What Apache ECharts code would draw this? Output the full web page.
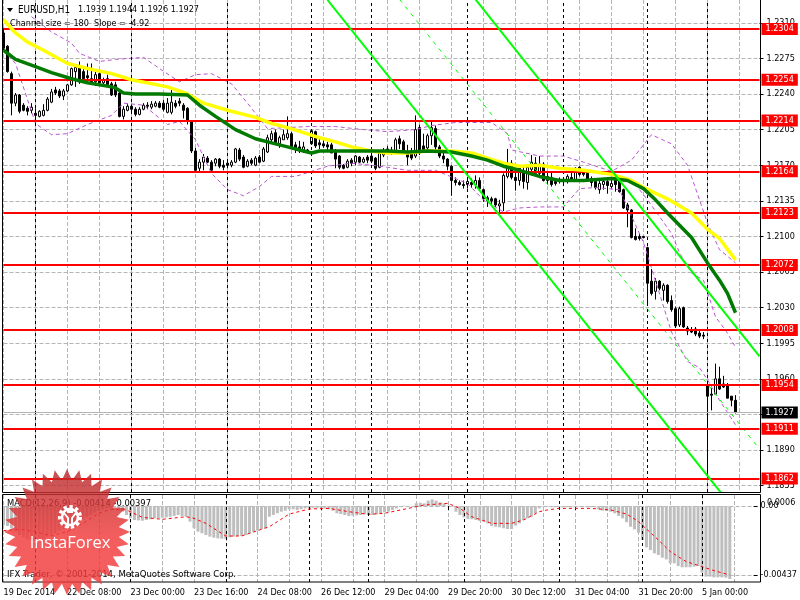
<!DOCTYPE html>
<html><head><meta charset="utf-8">
<style>html,body{margin:0;padding:0;background:#fff}#c{width:800px;height:600px}</style>
<script src="https://cdn.jsdelivr.net/npm/echarts@6/dist/echarts.min.js"></script>
</head><body><div id="c"></div>
<script>
const FONT = '"DejaVu Sans Condensed","DejaVu Sans", sans-serif';
const tickLabels = ['19 Dec 2014','22 Dec 08:00','23 Dec 00:00','23 Dec 16:00','24 Dec 08:00','26 Dec 12:00','29 Dec 04:00','29 Dec 20:00','30 Dec 12:00','31 Dec 04:00','31 Dec 20:00','5 Jan 00:00'];
const barSlots = 190;
const dayBreaks = [8,32,56,77,92,116,140,161,176];
const priceTicks = [1.2310,1.2275,1.2240,1.2205,1.2170,1.2135,1.2100,1.2065,1.2030,1.1995,1.1960,1.1925,1.1890,1.1855];
const levels = [1.2304,1.2254,1.2214,1.2164,1.2123,1.2072,1.2008,1.1954,1.1911,1.1862];
const lastPrice = 1.1927;
// open, close, low, high
const candles = [
[1.2300,1.2285,1.2283,1.2305],[1.2287,1.2262,1.2261,1.2288],[1.2260,1.2231,1.2219,1.2262],[1.2231,1.2239,1.2228,1.2241],
[1.2239,1.2223,1.2221,1.2240],[1.2229,1.2224,1.2223,1.2231],[1.2226,1.2223,1.2219,1.2228],[1.2224,1.2227,1.2221,1.2231],
[1.2221,1.2219,1.2209,1.2226],[1.2218,1.2223,1.2217,1.2224],[1.2219,1.2224,1.2218,1.2230],[1.2224,1.2235,1.2223,1.2237],
[1.2232,1.2242,1.2231,1.2245],[1.2244,1.2241,1.2239,1.2247],[1.2243,1.2238,1.2236,1.2245],[1.2238,1.2243,1.2234,1.2245],
[1.2243,1.2249,1.2242,1.2250],[1.2249,1.2265,1.2248,1.2266],[1.2262,1.2266,1.2247,1.2268],[1.2267,1.2252,1.2250,1.2272],
[1.2262,1.2255,1.2252,1.2265],[1.2258,1.2256,1.2254,1.2270],[1.2255,1.2252,1.2250,1.2270],[1.2252,1.2259,1.2248,1.2264],
[1.2260,1.2251,1.2249,1.2263],[1.2251,1.2254,1.2249,1.2256],[1.2255,1.2249,1.2247,1.2259],[1.2250,1.2239,1.2238,1.2252],
[1.2249,1.2239,1.2237,1.2252],[1.2241,1.2218,1.2217,1.2242],[1.2218,1.2225,1.2215,1.2228],[1.2224,1.2228,1.2223,1.2230],
[1.2228,1.2225,1.2222,1.2230],[1.2225,1.2220,1.2218,1.2227],[1.2220,1.2225,1.2219,1.2227],[1.2225,1.2229,1.2224,1.2231],
[1.2229,1.2228,1.2225,1.2232],[1.2227,1.2230,1.2225,1.2233],[1.2228,1.2231,1.2227,1.2233],[1.2231,1.2227,1.2226,1.2233],
[1.2231,1.2225,1.2223,1.2234],[1.2222,1.2231,1.2221,1.2236],[1.2222,1.2232,1.2220,1.2244],[1.2231,1.2228,1.2226,1.2234],
[1.2233,1.2231,1.2228,1.2236],[1.2229,1.2224,1.2216,1.2231],[1.2226,1.2213,1.2210,1.2227],[1.2213,1.2184,1.2182,1.2214],
[1.2184,1.2165,1.2164,1.2187],[1.2167,1.2173,1.2163,1.2176],[1.2173,1.2178,1.2165,1.2181],[1.2177,1.2173,1.2172,1.2179],
[1.2173,1.2165,1.2165,1.2175],[1.2172,1.2176,1.2169,1.2177],[1.2176,1.2169,1.2167,1.2177],[1.2170,1.2168,1.2165,1.2175],
[1.2172,1.2170,1.2167,1.2174],[1.2170,1.2173,1.2168,1.2175],[1.2173,1.2186,1.2172,1.2187],[1.2185,1.2176,1.2174,1.2187],
[1.2178,1.2168,1.2167,1.2180],[1.2169,1.2174,1.2168,1.2176],[1.2175,1.2172,1.2170,1.2177],[1.2170,1.2177,1.2169,1.2179],
[1.2178,1.2173,1.2172,1.2180],[1.2174,1.2186,1.2173,1.2188],[1.2183,1.2197,1.2182,1.2200],
[1.2195,1.2201,1.2192,1.2204],[1.2202,1.2192,1.2191,1.2205],[1.2191,1.2197,1.2187,1.2199],[1.2195,1.2200,1.2195,1.2205],
[1.2197,1.2201,1.2195,1.2218],[1.2201,1.2188,1.2187,1.2203],[1.2190,1.2186,1.2182,1.2193],[1.2188,1.2184,1.2182,1.2194],
[1.2184,1.2188,1.2182,1.2193],[1.2185,1.2184,1.2183,1.2186],[1.2191,1.2204,1.2190,1.2205],[1.2203,1.2189,1.2187,1.2204],
[1.2192,1.2190,1.2186,1.2196],[1.2191,1.2189,1.2187,1.2195],[1.2190,1.2188,1.2183,1.2193],[1.2190,1.2182,1.2182,1.2192],
[1.2184,1.2176,1.2167,1.2186],[1.2179,1.2168,1.2166,1.2180],[1.2170,1.2167,1.2166,1.2171],[1.2168,1.2174,1.2167,1.2176],
[1.2175,1.2172,1.2169,1.2177],[1.2173,1.2179,1.2170,1.2180],[1.2178,1.2173,1.2172,1.2179],[1.2173,1.2176,1.2172,1.2178],
[1.2178,1.2175,1.2172,1.2180],[1.2179,1.2174,1.2172,1.2182],[1.2177,1.2167,1.2165,1.2178],[1.2168,1.2182,1.2167,1.2184],
[1.2180,1.2184,1.2178,1.2187],[1.2186,1.2183,1.2181,1.2189],[1.2185,1.2182,1.2180,1.2188],[1.2183,1.2195,1.2182,1.2197],
[1.2196,1.2191,1.2186,1.2199],[1.2193,1.2183,1.2182,1.2195],[1.2183,1.2178,1.2170,1.2190],[1.2183,1.2177,1.2175,1.2187],
[1.2179,1.2205,1.2177,1.2219],[1.2207,1.2182,1.2180,1.2210],[1.2189,1.2185,1.2182,1.2201],[1.2187,1.2199,1.2185,1.2201],
[1.2199,1.2207,1.2190,1.2214],[1.2206,1.2188,1.2185,1.2209],[1.2188,1.2179,1.2177,1.2190],[1.2179,1.2176,1.2172,1.2182],
[1.2176,1.2169,1.2165,1.2177],[1.2169,1.2155,1.2140,1.2170],[1.2155,1.2153,1.2150,1.2158],[1.2153,1.2151,1.2150,1.2155],
[1.2151,1.2150,1.2147,1.2155],[1.2151,1.2154,1.2147,1.2158],[1.2153,1.2151,1.2148,1.2157],[1.2151,1.2155,1.2147,1.2160],
[1.2155,1.2147,1.2145,1.2158],[1.2146,1.2137,1.2134,1.2147],[1.2138,1.2135,1.2129,1.2140],[1.2137,1.2135,1.2131,1.2139],
[1.2137,1.2131,1.2129,1.2138],[1.2130,1.2132,1.2122,1.2136],[1.2133,1.2160,1.2125,1.2162],[1.2159,1.2171,1.2157,1.2186],
[1.2172,1.2158,1.2156,1.2175],[1.2158,1.2155,1.2145,1.2166],[1.2155,1.2167,1.2150,1.2170],[1.2164,1.2154,1.2147,1.2169],
[1.2153,1.2168,1.2146,1.2169],[1.2166,1.2173,1.2160,1.2180],[1.2172,1.2162,1.2159,1.2178],[1.2162,1.2171,1.2159,1.2179],
[1.2171,1.2155,1.2154,1.2173],[1.2155,1.2159,1.2151,1.2164],[1.2158,1.2151,1.2149,1.2163],[1.2154,1.2152,1.2150,1.2156],
[1.2156,1.2154,1.2152,1.2158],[1.2154,1.2155,1.2152,1.2157],[1.2154,1.2159,1.2152,1.2161],[1.2158,1.2155,1.2154,1.2164],
[1.2155,1.2167,1.2155,1.2168],[1.2168,1.2161,1.2159,1.2169],[1.2165,1.2161,1.2159,1.2166],[1.2162,1.2155,1.2154,1.2164],
[1.2157,1.2153,1.2149,1.2159],[1.2154,1.2148,1.2146,1.2155],[1.2146,1.2152,1.2142,1.2157],[1.2151,1.2154,1.2146,1.2157],
[1.2154,1.2150,1.2142,1.2157],[1.2149,1.2152,1.2147,1.2157],[1.2157,1.2151,1.2144,1.2159],[1.2155,1.2144,1.2143,1.2157],
[1.2146,1.2128,1.2127,1.2147],[1.2131,1.2126,1.2109,1.2133],[1.2126,1.2099,1.2098,1.2127],[1.2100,1.2097,1.2096,1.2108],
[1.2100,1.2098,1.2096,1.2103],[1.2100,1.2099,1.2098,1.2100],[1.2089,1.2054,1.2033,1.2090],[1.2056,1.2044,1.2042,1.2068],
[1.2046,1.2056,1.2038,1.2059],[1.2056,1.2049,1.2047,1.2057],[1.2047,1.2052,1.2037,1.2054],[1.2052,1.2036,1.2034,1.2053],
[1.2037,1.2028,1.2026,1.2042],[1.2029,1.2012,1.2010,1.2031],[1.2013,1.2029,1.2011,1.2031],[1.2030,1.2011,1.2010,1.2031],
[1.2010,1.2007,1.2003,1.2012],[1.2008,1.2006,1.2005,1.2011],[1.2009,1.2004,1.2002,1.2011],[1.2005,1.2002,1.2000,1.2008],
[1.2003,1.2002,1.1999,1.2006],[1.1953,1.1943,1.1865,1.1954],[1.1945,1.1944,1.1929,1.1951],[1.1945,1.1960,1.1945,1.1975],
[1.1960,1.1950,1.1949,1.1972],[1.1955,1.1952,1.1951,1.1963],[1.1954,1.1941,1.1941,1.1956],[1.1943,1.1939,1.1933,1.1943],
[1.1939,1.1927,1.1926,1.1944]];
// [bar index, price] nodes
const yellowMA = [[0,1.2313],[3,1.2300],[6,1.2291],[10,1.2283],[16,1.2270],[21,1.2265],[27,1.2260],[32,1.2254],[41,1.2247],[46,1.2240],[50,1.2231],[56,1.2224],[63,1.2217],[67,1.2211],[71,1.2207],[75,1.2202],[79,1.2197],[83,1.2193],[87,1.2188],[92,1.2184],[96,1.2182],[101,1.2182],[106,1.2184],[112,1.2184],[117,1.2182],[121,1.2177],[125,1.2172],[129,1.2169],[134,1.2170],[139,1.2167],[145,1.2165],[152,1.2161],[157,1.2155],[160,1.2148],[166,1.2137],[172,1.2123],[176,1.2107],[179,1.2098],[183,1.2077]];
const greenMA = [[0,1.2283],[3,1.2274],[8,1.2267],[12,1.2261],[17,1.2255],[21,1.2251],[27,1.2247],[28,1.2246],[30,1.2241],[33,1.2240],[39,1.2240],[46,1.2239],[49,1.2229],[53,1.2218],[58,1.2205],[63,1.2196],[67,1.2192],[71,1.2188],[75,1.2184],[77,1.2182],[79,1.2184],[88,1.2184],[96,1.2184],[101,1.2183],[106,1.2184],[112,1.2183],[117,1.2179],[121,1.2175],[125,1.2169],[129,1.2165],[134,1.2159],[139,1.2155],[145,1.2155],[152,1.2157],[156,1.2155],[160,1.2147],[163,1.2136],[166,1.2123],[172,1.2099],[176,1.2074],[179,1.2057],[181,1.2044],[183,1.2025]];
const bandUpper = [[7,1.2316],[12,1.2301],[17,1.2290],[19,1.2280],[24,1.2272],[28,1.2274],[35,1.2276],[39,1.2265],[44,1.2252],[48,1.2259],[52,1.2260],[57,1.2250],[61,1.2231],[66,1.2206],[76,1.2208],[83,1.2208],[90,1.2205],[96,1.2203],[103,1.2205],[107,1.2209],[113,1.2212],[122,1.2212],[126,1.2201],[127,1.2185],[134,1.2179],[140,1.2179],[145,1.2173],[152,1.2164],[157,1.2175],[159,1.2185],[162,1.2200],[167,1.2191],[171,1.2170],[174,1.2136],[176,1.2113],[179,1.2087],[183,1.2074]];
const bandLower = [[0,1.2283],[3,1.2270],[8,1.2211],[12,1.2200],[16,1.2201],[21,1.2210],[27,1.2219],[30,1.2231],[35,1.2229],[41,1.2210],[44,1.2213],[48,1.2195],[52,1.2162],[56,1.2146],[60,1.2140],[64,1.2149],[67,1.2159],[73,1.2159],[77,1.2164],[81,1.2169],[87,1.2172],[92,1.2170],[96,1.2168],[101,1.2165],[108,1.2165],[116,1.2152],[120,1.2136],[125,1.2124],[129,1.2128],[134,1.2129],[140,1.2129],[144,1.2147],[148,1.2148],[154,1.2146],[160,1.2094],[167,1.2006],[171,1.1977],[174,1.1971],[176,1.1959],[179,1.1939],[183,1.1915]];
const bandMiddle = [[159,1.2146],[161,1.2136],[167,1.2103],[169,1.2084],[172,1.2064],[175,1.2057],[178,1.2021],[181,1.2005],[183,1.1991]];
const channelLower = [[81,1.23324],[180,1.1845]];
const channelUpper = [[118,1.2333],[189,1.1982]];
const channelMid = [[99,1.2333],[189,1.1891]];
const macdHist = [-0.0012,-0.00127,-0.00141,-0.00162,-0.00184,-0.00198,-0.00211,-0.00215,-0.00219,-0.00215,-0.00211,-0.00198,-0.00186,-0.00173,-0.00158,-0.00148,-0.00131,-0.0012,-0.0011,-0.00093,
-0.00084,-0.00072,-0.00057,-0.00042,-0.0003,-0.00021,-0.00015,-0.00011,-0.00008,-0.00015,-0.00036,-0.00057,-0.00078,-0.00089,-0.00091,-0.00093,-0.00089,-0.00084,-0.00078,-0.00076,
-0.00074,-0.00072,-0.00068,-0.00063,-0.00057,-0.00063,-0.00068,-0.00099,-0.00141,-0.00162,-0.00173,-0.00184,-0.00194,-0.00201,-0.00205,-0.00207,-0.00207,-0.00198,-0.00194,-0.0019,
-0.0019,-0.00184,-0.00173,-0.00162,-0.00156,-0.00146,-0.00141,
-0.00068,-0.00057,-0.00046,-0.00036,-0.0003,-0.00021,-0.00021,-0.00025,-0.00021,-0.00015,-0.00013,-0.00011,-0.00011,-0.00011,-0.00015,-0.00021,-0.0003,-0.00046,-0.00051,-0.00057,
-0.00063,-0.00061,-0.00059,-0.00057,-0.00053,-0.00053,-0.00057,-0.00053,-0.00046,-0.0004,-0.00036,-0.00025,-0.00015,-0.00004,0.00002,-0.00004,0,0.00017,0.00021,0.00017,
0.00034,0.00042,0.00034,0.00023,0.00017,0.00002,-0.00004,-0.00036,-0.00057,-0.00072,-0.00082,-0.00084,-0.00089,-0.00095,-0.00099,-0.0011,-0.00127,-0.00131,-0.00135,-0.00141,
-0.00146,-0.00146,-0.00124,-0.0011,-0.00089,-0.00078,-0.00068,-0.00046,
-0.00015,-0.00004,-0.00004,-0.00008,-0.00008,-0.00008,-0.00008,-0.00008,-0.00008,-0.00008,-0.00004,-0.00004,-0.00008,-0.00008,-0.00008,-0.00021,-0.0003,-0.00032,-0.00036,-0.00046,
-0.00063,-0.00078,-0.00103,-0.00131,-0.00148,-0.00169,-0.00215,-0.00262,-0.00279,-0.003,-0.0031,-0.00327,-0.00338,-0.00363,-0.00363,-0.0038,-0.00388,-0.00388,-0.00388,-0.00384,
-0.0038,-0.00422,-0.00447,-0.00447,-0.00452,-0.00452,-0.00452,-0.00454,-0.00462];
const macdSignal = [[0,-0.00156],[4,-0.00148],[8,-0.00162],[12,-0.0019],[16,-0.00162],[20,-0.0011],[24,-0.00046],[27,-0.00021],[31,-0.00025],[35,-0.00072],[40,-0.00084],[46,-0.00068],[48,-0.00078],[51,-0.0011],[56,-0.0019],[60,-0.0019],[64,-0.00156],[67,-0.00131],[69,-0.00099],[72,-0.00051],[77,-0.00019],[82,-0.00015],[87,-0.00036],[92,-0.00053],[96,-0.00046],[102,-0.00015],[106,0.00006],[112,0.00017],[115,-0.00015],[118,-0.00068],[123,-0.0011],[128,-0.0011],[131,-0.00089],[135,-0.00036],[137,-0.00025],[140,-0.00015],[148,-0.00015],[153,-0.00025],[157,-0.00051],[160,-0.00099],[165,-0.00215],[168,-0.00289],[172,-0.00352],[176,-0.00384],[179,-0.00409],[183,-0.00437]];
const macdTicks = [0,-0.00437];

const categories = Array.from({length:barSlots},(_,i)=> i%16===0 ? (tickLabels[i/16]||'') : '');
const grey = '#b4b4b4';
const plain = (data,color,width,type,z)=>({type:'line',data,xAxisIndex:0,yAxisIndex:0,showSymbol:false,symbol:'none',silent:true,z,lineStyle:{color,width,type:type||'solid',cap:'butt'}});
const separators = i => ({type:'line',data:[],xAxisIndex:i,yAxisIndex:i,z:1,silent:true,markLine:{silent:true,symbol:'none',animation:false,label:{show:false},lineStyle:{color:'#000',width:1,type:[3,3]},data:dayBreaks.map(x=>({xAxis:x}))}});

const labelBox = (bg)=>({show:true,position:'end',distance:2,color:'#fff',backgroundColor:bg,padding:[1,4,1,4],fontFamily:FONT,fontSize:9,lineHeight:10,formatter:p=>Number(p.value).toFixed(4)});

// seal outline for the InstaForex stamp
const sealCx=67,sealCy=532,sealOut=63,sealIn=52,sealTeeth=32;
const sealPts=[];
for(let i=0;i<sealTeeth*2;i++){const r=i%2?sealIn:sealOut,a=Math.PI*i/sealTeeth-Math.PI/2;sealPts.push([sealCx+r*Math.cos(a),sealCy+r*Math.sin(a)]);}

const txt=(x,y,text,size)=>({type:'text',x,y,z:50,silent:true,style:{text,fill:'#000',font:(size||9)+'px '+FONT,textVerticalAlign:'middle'}});

const option={
 animation:false,backgroundColor:'#fff',
 grid:[{left:3.5,right:40.5,top:0,height:492,show:false},{left:3.5,right:40.5,top:495,height:87,show:false}],
 xAxis:[
  {type:'category',gridIndex:0,data:categories,boundaryGap:false,axisLine:{show:false},axisTick:{show:false},axisLabel:{show:false},
   splitLine:{show:true,interval:i=>i%8===0,lineStyle:{color:grey,type:'dashed',dashOffset:0,width:1}}},
  {type:'category',gridIndex:1,data:categories,boundaryGap:false,axisLine:{show:false},
   axisTick:{show:true,interval:i=>i%16===0,length:4,lineStyle:{color:'#000'}},
   axisLabel:{show:true,interval:i=>i%16===0,align:'left',margin:6,color:'#000',fontFamily:FONT,fontSize:9,hideOverlap:false},
   splitLine:{show:true,interval:i=>i%8===0,lineStyle:{color:grey,type:'dashed',width:1}}}
 ],
 yAxis:[
  {type:'value',gridIndex:0,position:'right',min:1.18488,max:1.23324,axisLine:{show:false},
   axisTick:{show:true,length:4,inside:false,customValues:priceTicks,lineStyle:{color:'#000'}},
   axisLabel:{show:true,customValues:priceTicks,color:'#000',fontFamily:FONT,fontSize:9,margin:7,formatter:v=>v.toFixed(4)},
   splitLine:{show:true,lineStyle:{color:grey,type:'dashed',width:1}}},
  {type:'value',gridIndex:1,position:'right',min:-0.004813,max:0.000697,axisLine:{show:false},
   axisTick:{show:true,length:4,customValues:macdTicks,lineStyle:{color:'#000'}},
   axisLabel:{show:true,customValues:macdTicks,color:'#000',fontFamily:FONT,fontSize:9,margin:7,formatter:v=>v===0?'0.00':v.toFixed(5)},
   splitLine:{show:true,lineStyle:{color:grey,type:'dashed',width:1}}}
 ],
 series:[
  separators(0),separators(1),
  {type:'candlestick',xAxisIndex:0,yAxisIndex:0,data:candles,barWidth:3,z:3,silent:true,
   itemStyle:{color:'#fff',color0:'#000',borderColor:'#000',borderColor0:'#000',borderWidth:1}},
  plain(bandUpper,'#ba55d3',1,[4,3],4),plain(bandLower,'#ba55d3',1,[4,3],4),plain(bandMiddle,'#ba55d3',1,[4,3],4),
  plain(channelMid,'#00ff00',1,[4,5],4),
  plain(yellowMA,'#ffff00',3.5,null,5),plain(greenMA,'#007a00',3.5,null,6),
  plain(channelLower,'#00ff00',2,null,7),plain(channelUpper,'#00ff00',2,null,7),
  {type:'line',data:[],xAxisIndex:0,yAxisIndex:0,z:8,silent:true,markLine:{silent:true,symbol:'none',animation:false,precision:4,
    lineStyle:{color:grey,width:1,type:'solid'},label:labelBox('#000'),data:[{yAxis:lastPrice}]}},
  {type:'line',data:[],xAxisIndex:0,yAxisIndex:0,z:9,silent:true,markLine:{silent:true,symbol:'none',animation:false,precision:4,
    lineStyle:{color:'#ff0000',width:2,type:'solid'},label:labelBox('#ff0000'),data:levels.map(v=>({yAxis:v}))}},
  {type:'bar',xAxisIndex:1,yAxisIndex:1,data:macdHist,barWidth:3,z:3,silent:true,itemStyle:{color:'#bebebe'}},
  {type:'line',xAxisIndex:1,yAxisIndex:1,data:macdSignal,showSymbol:false,symbol:'none',silent:true,z:4,lineStyle:{color:'#ff0000',width:1,type:[3,3]}}
 ],
 graphic:[
  {type:'rect',z:40,silent:true,shape:{x:2.5,y:-2,width:758,height:494.5},style:{fill:'none',stroke:'#000',lineWidth:1}},
  {type:'rect',z:40,silent:true,shape:{x:2.5,y:494.5,width:758,height:87.5},style:{fill:'none',stroke:'#000',lineWidth:1}},
  {type:'polygon',z:60,silent:true,shape:{points:[[7,8],[13,8],[10,12]]},style:{fill:'#000'}},
  txt(18,10,'EURUSD,H1',9.8),
  txt(78,10,'1.1939 1.1944 1.1926 1.1927'),
  txt(10,24,'Channel size = 180  Slope = -4.92'),
  txt(7,504,'MACD(12,26,9) -0.00414 -0.00397',9.3),
  txt(7,575,'IFX Trader, \u00a9 2001-2014, MetaQuotes Software Corp.',9.5),
  txt(767,503,'0.0006'),
  {type:'polygon',z:100,silent:true,shape:{points:sealPts},style:{opacity:0.82,fill:{type:'linear',x:0,y:0,x2:0,y2:1,colorStops:[{offset:0,color:'#b52c2e'},{offset:0.55,color:'#f23a3a'},{offset:1,color:'#f03a3a'}]}}},
  {type:'circle',z:101,silent:true,shape:{cx:70,cy:517,r:9.5},style:{fill:'none',stroke:'#fff',lineWidth:5,lineDash:[3,2.5]}},
  {type:'circle',z:101,silent:true,shape:{cx:70,cy:517,r:8},style:{fill:'none',stroke:'#fff',lineWidth:2.5}},
  {type:'rect',z:101,silent:true,shape:{x:67,y:508,width:6,height:5},style:{fill:'#fff'}},
  {type:'polyline',z:101,silent:true,shape:{points:[[64,513],[68,518],[68,528]]},style:{fill:'none',stroke:'#fff',lineWidth:2}},
  {type:'polyline',z:101,silent:true,shape:{points:[[76,513],[72,518],[72,528]]},style:{fill:'none',stroke:'#fff',lineWidth:2}},
  {type:'text',z:102,silent:true,x:70,y:543,style:{text:'InstaForex',fill:'#fff',font:'16.5px "Open Sans", sans-serif',textAlign:'center',textVerticalAlign:'middle'}}
 ]
};
echarts.init(document.getElementById('c'),null,{renderer:'canvas'}).setOption(option);
</script></body></html>
